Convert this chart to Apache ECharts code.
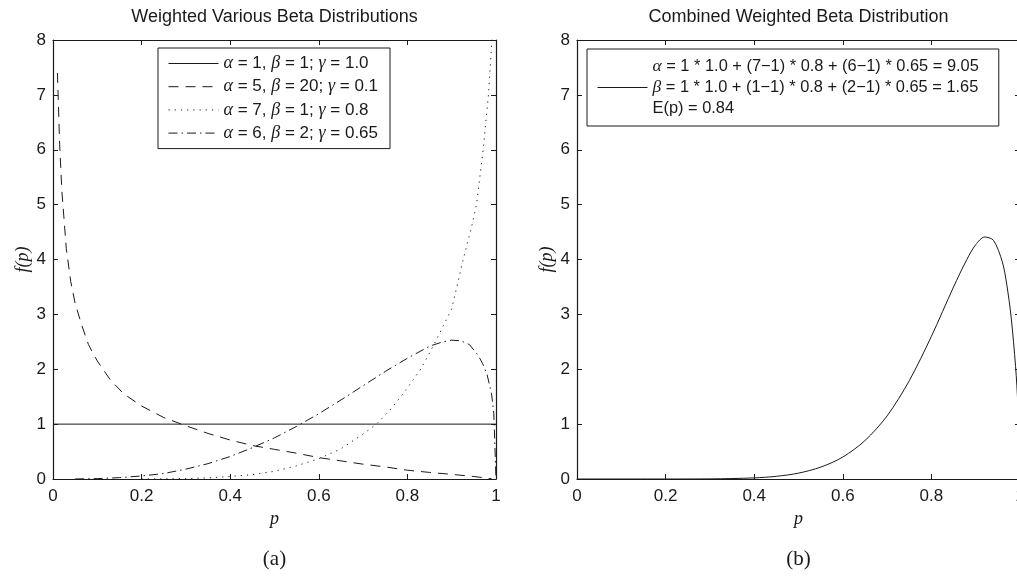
<!DOCTYPE html>
<html>
<head>
<meta charset="utf-8">
<script src="https://cdn.jsdelivr.net/npm/echarts@6/dist/echarts.min.js"></script>
<style>
html,body{margin:0;padding:0;background:#fff;}
#chart{width:1017px;height:579px;}
</style>
</head>
<body>
<div id="chart"></div>
<script>
// ---------- data ----------
const titleA = 'Weighted Various Beta Distributions';
const titleB = 'Combined Weighted Beta Distribution';
const captionA = '(a)';
const captionB = '(b)';
const xName = 'p';
const yName = 'f(p)';

const seriesNames = [
  'α = 1, β = 1; γ = 1.0',
  'α = 5, β = 20; γ = 0.1',
  'α = 7, β = 1; γ = 0.8',
  'α = 6, β = 2; γ = 0.65'
];
const combinedName = 'Combined';
const combinedLines = [
  'α = 1 * 1.0 + (7−1) * 0.8 + (6−1) * 0.65 = 9.05',
  'β = 1 * 1.0 + (1−1) * 0.8 + (2−1) * 0.65 = 1.65',
  'E(p) = 0.84'
];

// solid: alpha=1, beta=1
const p1 = [0, 1];
const v1 = [1, 1];

// dashed: alpha=5, beta=20
const p2 = [0.01, 0.015, 0.02, 0.03, 0.04, 0.05, 0.065, 0.08, 0.1, 0.13, 0.16, 0.2, 0.25, 0.3, 0.35, 0.4, 0.45, 0.5, 0.55, 0.6, 0.65, 0.7, 0.75, 0.8, 0.85, 0.9, 0.95, 0.99];
const v2 = [7.4, 6.1, 5.25, 4.2, 3.6, 3.2, 2.8, 2.45, 2.15, 1.8, 1.55, 1.33, 1.12, 0.97, 0.83, 0.71, 0.61, 0.54, 0.47, 0.39, 0.33, 0.27, 0.22, 0.16, 0.12, 0.085, 0.045, 0.005];

// dotted: alpha=7, beta=1
const p3 = [0.2, 0.25, 0.3, 0.35, 0.4, 0.45, 0.5, 0.55, 0.6, 0.65, 0.7, 0.73, 0.76, 0.79, 0.83, 0.86, 0.9, 0.926, 0.945, 0.956, 0.971, 0.983, 0.99, 0.993];
const v3 = [0.001, 0.003, 0.008, 0.02, 0.045, 0.08, 0.14, 0.24, 0.37, 0.55, 0.82, 1.0, 1.25, 1.55, 2.0, 2.45, 3.1, 4.0, 4.6, 5.0, 6.0, 7.0, 7.9, 8.3];

// dash-dot: alpha=6, beta=2
const p4 = [0.05, 0.1, 0.15, 0.2, 0.25, 0.3, 0.35, 0.4, 0.45, 0.5, 0.55, 0.6, 0.65, 0.7, 0.75, 0.8, 0.85, 0.88, 0.9, 0.92, 0.94, 0.96, 0.97, 0.98, 0.99, 0.995, 1.0];
const v4 = [0.001, 0.007, 0.025, 0.055, 0.1, 0.18, 0.28, 0.41, 0.57, 0.75, 0.96, 1.19, 1.44, 1.7, 1.96, 2.2, 2.42, 2.5, 2.53, 2.52, 2.45, 2.25, 2.1, 1.9, 1.55, 1.2, 0.0];

// combined
const p5 = [0, 0.2, 0.3, 0.4, 0.45, 0.5, 0.55, 0.6, 0.65, 0.7, 0.75, 0.8, 0.85, 0.88, 0.9, 0.92, 0.94, 0.96, 0.97, 0.98, 0.99, 0.995, 1.0];
const v5 = [0, 0.0001, 0.002, 0.02, 0.049, 0.107, 0.216, 0.40, 0.70, 1.15, 1.79, 2.6, 3.5, 4.0, 4.27, 4.41, 4.35, 3.96, 3.55, 2.95, 2.05, 1.37, 0];

// ---------- chart ----------
const zip = (ps, vs) => ps.map((p, i) => [p, vs[i]]);
const ink = '#1a1a1a';
const sans = "'Liberation Sans', Arial, sans-serif";
const serif = "'Liberation Serif', 'Times New Roman', serif";

const axisLine = { show: true, onZero: false, lineStyle: { color: ink, width: 1.2 } };
const axisTick = { show: true, inside: true, length: 5, lineStyle: { color: ink, width: 1 } };
const labelStyle = { fontFamily: sans, fontSize: 17, color: ink };
const nameStyle = { fontFamily: serif, fontStyle: 'italic', fontSize: 18, color: ink };

function xAxes(gi) {
  return [
    { gridIndex: gi, type: 'value', min: 0, max: 1, interval: 0.2, position: 'bottom',
      axisLine, axisTick, splitLine: { show: false },
      axisLabel: Object.assign({ margin: 9 }, labelStyle),
      name: xName, nameLocation: 'middle', nameGap: 29, nameTextStyle: nameStyle },
    { gridIndex: gi, type: 'value', min: 0, max: 1, interval: 0.2, position: 'top',
      axisLine, axisTick, splitLine: { show: false }, axisLabel: { show: false } }
  ];
}
function yAxes(gi) {
  return [
    { gridIndex: gi, type: 'value', min: 0, max: 8, interval: 1, position: 'left',
      axisLine, axisTick, splitLine: { show: false },
      axisLabel: Object.assign({ margin: 7 }, labelStyle),
      name: yName, nameLocation: 'middle', nameGap: 20, nameTextStyle: nameStyle },
    { gridIndex: gi, type: 'value', min: 0, max: 8, interval: 1, position: 'right',
      axisLine, axisTick, splitLine: { show: false }, axisLabel: { show: false } }
  ];
}

const greek = s => s.replace(/([αβγ])/g, '{g|$1}');
const hiddenSymbol = { color: 'rgba(0,0,0,0)', borderColor: 'rgba(0,0,0,0)', borderWidth: 0, opacity: 0 };

const lineTypes = ['solid', [10, 7], [1.2, 5], [9, 4, 1.5, 4]];

const option = {
  animation: false,
  backgroundColor: '#fff',
  title: [
    { text: titleA, left: 274.5, top: 8, textAlign: 'center', padding: 0,
      textStyle: { fontFamily: sans, fontWeight: 'normal', fontSize: 18, color: ink } },
    { text: titleB, left: 798.5, top: 8, textAlign: 'center', padding: 0,
      textStyle: { fontFamily: sans, fontWeight: 'normal', fontSize: 18, color: ink } },
    { text: captionA, left: 274.5, top: 549, textAlign: 'center', padding: 0,
      textStyle: { fontFamily: serif, fontWeight: 'normal', fontSize: 21, color: ink } },
    { text: captionB, left: 798.5, top: 549, textAlign: 'center', padding: 0,
      textStyle: { fontFamily: serif, fontWeight: 'normal', fontSize: 21, color: ink } }
  ],
  grid: [
    { left: 53, top: 40, width: 443, height: 439, outerBoundsMode: 'none', containLabel: false },
    { left: 577, top: 40, width: 443, height: 439, outerBoundsMode: 'none', containLabel: false }
  ],
  xAxis: xAxes(0).concat(xAxes(1)),
  yAxis: yAxes(0).concat(yAxes(1)),
  legend: [
    { data: seriesNames, orient: 'vertical', left: 158, top: 48,
      selectedMode: false, itemWidth: 50, itemHeight: 14, itemGap: 5.2,
      padding: [6.5, 12, 6.5, 10], borderColor: ink, borderWidth: 1, backgroundColor: '#fff',
      itemStyle: hiddenSymbol, lineStyle: { width: 1 },
      formatter: name => greek(name),
      textStyle: { fontFamily: sans, fontSize: 17, color: ink,
        rich: { g: { fontFamily: serif, fontStyle: 'italic', fontSize: 18, color: ink } } } },
    { data: [combinedName], orient: 'vertical', left: 587, top: 49,
      selectedMode: false, itemWidth: 50, itemHeight: 14,
      padding: [7, 20, 7, 10], borderColor: ink, borderWidth: 1, backgroundColor: '#fff',
      itemStyle: hiddenSymbol, lineStyle: { width: 1 },
      formatter: () => combinedLines.map(greek).join('\n'),
      textStyle: { fontFamily: sans, fontSize: 16.4, color: ink, lineHeight: 21,
        rich: { g: { fontFamily: serif, fontStyle: 'italic', fontSize: 17.5, color: ink, lineHeight: 21 } } } }
  ],
  series: [
    [p1, v1], [p2, v2], [p3, v3], [p4, v4]
  ].map((d, i) => ({
    name: seriesNames[i], type: 'line', xAxisIndex: 0, yAxisIndex: 0,
    data: zip(d[0], d[1]), symbol: 'none', smooth: false, silent: true,
    lineStyle: { color: ink, width: 1, type: lineTypes[i] },
    itemStyle: { color: ink }
  })).concat([{
    name: combinedName, type: 'line', xAxisIndex: 2, yAxisIndex: 2,
    data: zip(p5, v5), symbol: 'none', smooth: 0.3, silent: true,
    lineStyle: { color: ink, width: 1, type: 'solid' },
    itemStyle: { color: ink }
  }])
};

const chart = echarts.init(document.getElementById('chart'), null, { renderer: 'canvas' });
chart.setOption(option);
</script>
</body>
</html>
